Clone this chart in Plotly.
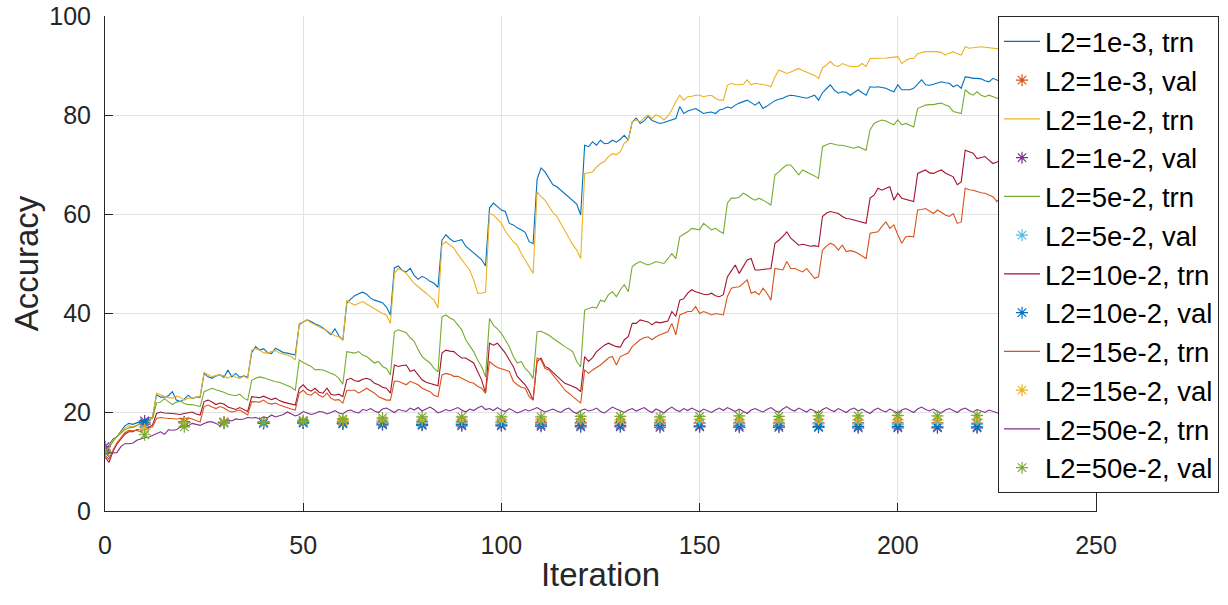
import plotly.graph_objects as go

# ---------------- data ----------------
trn_1e3 = [
    12.0, 13.2, 14.5, 15.0, 16.2, 17.2, 17.7, 17.5, 17.8, 18.1, 18.3, 18.8, 18.9,
    23.5, 23.0, 23.0, 23.3, 24.1, 22.4, 22.1, 22.6, 23.4, 22.7, 23.0, 23.0,
    27.8, 27.1, 26.8, 27.3, 27.5, 27.0, 28.5, 27.1, 27.8, 27.0, 27.3, 27.0,
    32.0, 33.2, 32.5, 32.8, 32.0, 31.8, 32.9, 32.5, 32.0, 31.9, 31.7, 31.5,
    37.6, 38.2, 38.6, 38.3, 37.8, 37.5, 37.0, 36.3, 35.6, 36.8, 35.4, 34.5,
    42.0, 42.8, 43.5, 43.9, 44.2, 43.8, 43.0, 42.6, 42.3, 42.1, 41.2, 39.6,
    49.1, 49.5, 48.6, 48.3, 49.0, 47.6, 46.8, 47.4, 47.0, 46.4, 46.0, 45.2,
    54.7, 55.8, 55.0, 54.4, 54.6, 54.8, 53.5, 52.8, 52.3, 51.4, 50.8, 49.5,
    61.2, 62.2, 61.5, 60.8, 60.5, 58.1, 57.8, 57.2, 56.8, 56.3, 54.4, 54.0,
    67.0, 69.3, 68.5, 67.2, 65.9, 65.5, 64.8, 64.2, 63.5, 62.8, 62.0, 59.8,
    73.9, 73.6, 74.6, 73.9, 74.9, 74.2, 74.3, 74.9, 74.5, 75.1, 75.9, 74.9,
    78.6, 79.4, 78.3, 78.8, 79.7, 78.9, 78.6, 78.3, 78.5, 78.8, 79.0, 79.3,
    81.7, 80.3, 80.8, 81.0, 81.3, 80.8, 80.3, 80.5, 80.6, 80.3, 81.0, 81.2,
    81.6, 81.4, 82.0, 82.4, 82.7, 83.0, 82.5, 82.0, 82.6, 81.3, 81.8, 82.4,
    82.9, 83.2, 83.4, 83.8, 84.0, 83.9, 83.7, 83.5, 83.4, 83.7, 84.0, 83.0,
    84.5, 85.3, 86.1, 85.0, 84.4, 84.7, 84.6, 84.0, 84.6, 85.1, 84.5, 84.0,
    85.7, 85.6, 85.7, 85.5, 85.4, 85.0, 84.7, 86.1, 85.1, 85.1, 85.1, 85.4,
    86.2, 87.1, 86.1, 86.0, 86.2, 86.5, 86.7, 86.5, 86.4, 85.7, 86.1, 85.4,
    87.7, 87.6, 87.4, 87.4, 87.3, 86.9, 86.7, 87.4, 87.0, 86.7,
]

trn_1e2 = [
    11.8, 13.0, 14.2, 15.0, 15.8, 16.8, 17.2, 17.0, 17.3, 17.6, 17.9, 18.4, 18.9,
    23.8, 23.5, 23.2, 22.9, 22.8, 23.2, 23.0, 22.4, 22.8, 22.8, 23.0, 23.2,
    28.0, 27.6, 27.1, 27.4, 27.5, 27.3, 26.8, 27.5, 27.0, 26.8, 27.2, 26.8,
    32.5, 32.8, 32.5, 32.0, 31.9, 32.2, 32.4, 31.9, 31.7, 31.5, 31.2, 30.5,
    37.9, 38.2, 38.6, 38.0, 37.6, 37.3, 36.9, 36.4, 35.9, 35.4, 35.2, 34.5,
    42.6, 42.0, 41.6, 41.9, 42.3, 41.8, 41.3, 40.8, 40.3, 39.9, 39.6, 37.9,
    48.0, 49.0, 48.6, 48.0, 47.0, 46.0, 45.3, 44.7, 44.0, 43.3, 42.6, 41.0,
    53.7, 54.4, 53.8, 53.1, 51.9, 50.7, 49.7, 48.7, 46.7, 44.0, 44.0, 44.2,
    60.1, 59.8, 59.0, 58.1, 56.5, 55.4, 54.4, 53.7, 52.0, 50.7, 49.3, 48.0,
    64.5, 63.5, 62.8, 61.5, 60.3, 59.5, 58.1, 56.5, 55.4, 53.8, 52.7, 51.0,
    68.2, 68.3, 68.5, 69.5, 70.2, 70.6, 71.6, 72.2, 72.0, 72.6, 74.3, 74.9,
    78.6, 79.0, 78.6, 79.4, 80.0, 79.3, 80.0, 79.7, 79.0, 79.8, 81.0, 82.7,
    84.0, 83.0, 83.7, 83.8, 84.0, 84.0, 83.7, 83.9, 84.0, 83.4, 83.0, 83.0,
    86.0, 86.4, 86.1, 86.1, 86.2, 87.1, 86.1, 86.4, 86.3, 86.1, 86.0, 85.7,
    87.7, 89.1, 88.8, 88.4, 88.7, 89.0, 89.4, 89.0, 88.7, 88.4, 88.0, 87.4,
    89.5, 90.1, 90.8, 90.0, 89.8, 90.4, 90.1, 89.8, 89.8, 89.8, 90.4, 89.8,
    91.4, 91.4, 91.5, 91.4, 91.5, 91.6, 91.7, 91.8, 90.4, 91.0, 91.4, 91.4,
    92.4, 92.6, 92.8, 92.8, 92.8, 92.8, 92.6, 92.1, 92.5, 92.8, 92.4, 92.1,
    93.8, 93.5, 93.6, 93.7, 93.8, 93.7, 93.6, 93.6, 93.4, 93.3,
]

trn_5e2 = [
    11.5, 12.8, 14.0, 15.0, 15.8, 16.4, 16.8, 16.9, 17.2, 17.8, 18.0, 18.4, 18.7,
    21.8, 22.0, 22.7, 22.0, 21.5, 22.0, 22.2, 21.7, 21.5, 21.5, 21.3, 21.1,
    24.1, 24.5, 24.8, 24.5, 24.3, 24.0, 23.6, 23.4, 23.3, 23.6, 22.8, 22.4,
    26.4, 26.8, 27.1, 26.9, 26.6, 26.4, 26.1, 26.0, 25.7, 25.3, 25.0, 24.4,
    30.5, 30.0, 29.6, 29.2, 28.5, 28.6, 28.5, 28.2, 27.8, 27.5, 26.8, 25.6,
    32.2, 32.0, 31.9, 32.2, 31.5, 31.2, 30.5, 29.9, 30.2, 29.2, 28.8, 27.5,
    36.2, 36.6, 36.3, 36.0, 35.0, 34.3, 32.6, 31.2, 30.5, 29.9, 28.8, 28.1,
    39.2, 39.6, 39.0, 38.6, 37.6, 36.6, 34.6, 33.5, 32.2, 30.5, 29.2, 27.1,
    38.9, 37.5, 36.8, 35.9, 34.5, 33.2, 31.2, 29.9, 30.2, 28.8, 28.0, 26.8,
    36.2, 36.3, 35.9, 35.5, 34.9, 34.4, 33.8, 33.2, 32.7, 32.2, 30.2, 29.1,
    40.6, 40.9, 41.2, 41.0, 42.6, 42.3, 43.7, 44.3, 43.3, 44.7, 45.7, 44.3,
    49.4, 50.0, 50.4, 50.0, 49.7, 50.0, 50.4, 50.2, 50.0, 51.0, 52.0, 51.0,
    55.4, 55.9, 56.4, 57.1, 57.0, 56.8, 58.1, 57.5, 56.8, 57.1, 56.5, 56.1,
    62.2, 63.2, 63.2, 63.4, 64.2, 63.8, 63.2, 62.8, 63.2, 62.8, 62.3, 61.8,
    67.9, 68.5, 69.3, 69.9, 69.9, 69.0, 67.9, 68.9, 68.5, 68.2, 67.7, 67.2,
    73.6, 74.0, 74.3, 74.1, 73.9, 73.9, 73.7, 73.5, 73.3, 73.6, 73.3, 72.9,
    77.0, 78.3, 78.7, 79.0, 78.8, 78.4, 78.0, 79.0, 78.0, 78.3, 78.0, 77.6,
    81.3, 81.7, 82.0, 82.1, 82.1, 82.3, 82.4, 82.0, 81.7, 80.7, 80.5, 80.3,
    85.1, 84.4, 84.0, 84.7, 84.0, 83.7, 84.0, 83.7, 83.4, 83.4,
]

trn_10e2 = [
    11.0, 9.8, 12.0, 13.5, 14.5, 15.5, 16.0, 16.0, 16.4, 16.5, 16.5, 16.9, 17.4,
    19.7, 20.0, 19.8, 19.8, 19.7, 19.6, 19.5, 19.7, 19.8, 20.0, 19.6, 19.4,
    22.1, 22.4, 22.0, 21.5, 21.8, 21.6, 21.0, 20.8, 20.5, 20.9, 20.5, 20.1,
    23.1, 23.0, 22.9, 23.2, 22.8, 22.5, 22.8, 22.3, 22.0, 21.8, 21.6, 21.4,
    24.8, 25.5, 24.6, 24.2, 24.8, 24.0, 23.8, 24.8, 23.6, 23.4, 23.6, 23.1,
    26.5, 26.8, 26.3, 26.2, 26.6, 26.8, 26.5, 25.8, 25.5, 25.0, 24.8, 23.8,
    29.5, 29.2, 29.4, 29.5, 28.2, 28.5, 27.5, 26.5, 26.0, 25.8, 25.5, 25.3,
    31.9, 32.5, 32.3, 32.2, 31.5, 30.9, 30.9, 30.4, 29.9, 28.2, 26.5, 23.8,
    33.9, 33.5, 33.9, 32.9, 31.9, 30.5, 29.2, 27.2, 26.3, 25.5, 24.2, 22.4,
    30.2, 30.9, 29.2, 28.8, 28.0, 27.2, 26.5, 25.8, 25.5, 25.2, 24.8, 24.1,
    31.2, 30.2, 31.0, 32.2, 32.9, 33.5, 33.9, 33.5, 33.2, 33.1, 34.6, 35.2,
    37.9, 37.9, 38.6, 38.4, 38.2, 37.6, 38.2, 38.0, 38.2, 38.4, 40.3, 39.3,
    42.6, 42.9, 44.0, 44.7, 44.3, 44.0, 43.8, 43.7, 44.0, 43.5, 43.3, 43.7,
    47.3, 48.5, 49.7, 48.0, 49.5, 50.7, 51.0, 48.7, 48.7, 48.8, 48.8, 49.0,
    54.1, 54.7, 55.5, 56.4, 55.1, 54.3, 53.7, 53.9, 53.7, 53.5, 53.6, 53.4,
    59.5, 60.2, 60.5, 60.3, 60.1, 59.5, 59.1, 59.0, 58.8, 58.5, 58.4, 58.1,
    63.2, 63.8, 65.2, 64.8, 65.2, 65.5, 62.8, 64.2, 63.2, 63.0, 62.8, 62.5,
    68.2, 68.5, 68.9, 68.3, 68.2, 68.6, 68.9, 68.3, 67.9, 67.5, 65.9, 66.5,
    72.9, 72.6, 72.3, 71.2, 71.4, 71.6, 70.9, 70.2, 70.5, 70.9,
]

trn_15e2 = [
    11.2, 10.5, 12.3, 13.8, 14.8, 15.8, 16.3, 16.2, 16.3, 16.0, 16.5, 16.8, 17.0,
    18.7, 18.9, 18.8, 18.7, 18.7, 18.6, 18.7, 18.7, 18.8, 18.6, 18.3, 18.0,
    21.1, 21.4, 21.0, 20.7, 21.1, 20.8, 20.3, 20.0, 20.2, 20.4, 19.9, 19.4,
    22.1, 22.1, 22.0, 22.4, 21.8, 21.6, 21.8, 21.4, 21.1, 20.8, 20.6, 20.4,
    23.8, 24.4, 23.6, 23.4, 24.1, 23.4, 23.0, 23.8, 22.8, 22.4, 22.5, 21.8,
    24.4, 24.4, 24.4, 23.8, 24.3, 24.8, 24.3, 23.8, 23.1, 22.8, 22.4, 22.4,
    26.2, 26.2, 25.8, 25.5, 26.2, 25.8, 25.5, 24.8, 24.4, 24.1, 23.4, 23.1,
    27.5, 27.8, 27.6, 27.2, 27.2, 26.8, 26.5, 26.0, 25.8, 25.2, 24.8, 23.8,
    30.2, 29.5, 29.0, 28.8, 28.5, 28.2, 26.2, 25.5, 25.0, 24.8, 23.1, 22.4,
    30.9, 30.5, 28.8, 28.5, 27.4, 26.5, 25.5, 24.4, 23.8, 23.1, 22.4, 21.8,
    28.5, 27.8, 28.5, 29.0, 29.5, 30.2, 30.9, 31.2, 29.5, 31.2, 31.5, 31.9,
    33.2, 34.0, 34.6, 35.0, 35.2, 34.6, 35.2, 35.6, 35.9, 36.2, 37.9, 35.6,
    39.6, 40.0, 40.3, 40.3, 41.3, 39.9, 40.3, 40.0, 39.6, 39.9, 39.7, 39.6,
    43.3, 45.0, 45.2, 45.3, 46.0, 46.7, 44.0, 44.3, 43.7, 45.0, 44.0, 42.6,
    49.0, 48.8, 48.7, 50.4, 49.0, 49.0, 48.6, 48.3, 49.0, 48.0, 47.0, 47.3,
    52.7, 53.5, 54.1, 53.7, 52.7, 53.7, 52.4, 52.6, 52.4, 52.0, 51.5, 51.0,
    56.1, 56.2, 56.4, 57.5, 58.4, 57.1, 57.8, 55.8, 54.1, 55.4, 55.5, 55.4,
    60.8, 60.9, 61.1, 60.6, 60.1, 60.8, 60.3, 59.8, 59.5, 60.1, 58.1, 58.4,
    65.2, 64.9, 64.8, 64.5, 64.3, 64.2, 63.8, 63.5, 62.5, 63.5,
]

trn_50e2 = [
    11.7, 11.7, 11.7, 11.8, 13.0, 13.6, 13.6, 13.7, 14.3, 14.6, 14.8, 14.9, 15.3,
    15.6, 16.0, 15.5, 16.4, 16.3, 16.4, 17.0, 17.0, 17.2, 17.7, 17.5, 17.3,
    17.7, 18.0, 18.0, 17.7, 17.2, 18.1, 18.4, 18.2, 18.6, 18.5, 18.6, 18.9,
    18.8, 18.9, 18.6, 19.0, 18.8, 19.4, 19.0, 19.2, 19.5, 20.0, 19.6, 19.2, 19.5, 20.1,
    19.8, 19.5, 19.7, 20.1, 20.0, 19.6, 19.9, 20.3, 19.8, 19.6, 20.2, 20.4,
    20.0, 19.8, 20.5, 20.3, 20.7, 20.2, 19.9, 20.6, 20.8, 20.3, 19.9, 20.5,
    20.3, 20.1, 20.8, 20.4, 20.9, 20.2, 20.6, 21.0, 20.5, 19.8, 20.1, 20.5,
    20.2, 20.6, 20.9, 20.4, 20.0, 20.6, 20.3, 20.8, 21.2, 20.5, 20.7, 20.3,
    20.9, 20.4, 20.1, 20.7, 20.3, 19.8, 20.1, 20.5, 20.2, 20.6, 20.9, 20.4,
    20.0, 20.3, 20.6, 20.2, 19.9, 20.5, 20.8, 20.1, 19.7, 20.3, 20.6, 20.2,
    20.4, 20.8, 20.1, 19.8, 20.5, 21.0, 20.6, 20.2, 19.9, 20.4, 20.7, 20.2,
    20.5, 20.9, 20.3, 19.9, 20.6, 20.2, 19.8, 20.5, 21.0, 20.4, 20.1, 20.7,
    20.3, 20.8, 20.4, 20.0, 20.6, 20.2, 19.9, 20.4, 20.8, 20.3, 20.9, 20.5,
    20.1, 20.6, 20.2, 19.7, 20.4, 20.7, 20.3, 20.0, 20.5, 20.9, 20.3, 19.9,
    20.6, 21.1, 20.5, 20.2, 20.8, 20.4, 20.0, 20.6, 20.2, 19.8, 20.5, 20.9,
    20.4, 20.1, 20.7, 20.3, 19.9, 20.5, 20.8, 20.2, 20.6, 20.1, 19.7, 20.4,
    20.8, 20.3, 20.0, 20.6, 20.2, 19.8, 20.4, 20.7, 20.3, 19.9, 20.6, 21.0,
    20.5, 20.2, 20.6, 20.1, 19.8, 20.4, 20.7, 20.3, 19.9, 20.5, 20.8, 20.3,
    20.0, 20.5, 20.2, 19.9, 20.4, 20.1, 19.8, 19.6,
]

val_iter = [0, 10, 20, 30, 40, 50, 60, 70, 80, 90, 100, 110,
            120, 130, 140, 150, 160, 170, 180, 190, 200, 210, 220]
val_1e3 = [12.3, 17.5, 18.0, 18.0, 18.0, 18.1, 18.0, 18.0, 18.0, 18.0, 17.9, 17.9,
           17.9, 17.9, 17.8, 17.8, 17.8, 17.8, 17.8, 17.8, 17.8, 17.8, 17.7]
val_1e2 = [13.0, 18.2, 17.9, 17.8, 17.7, 17.8, 17.6, 17.4, 17.3, 17.2, 17.2, 17.1,
           17.0, 17.0, 16.9, 17.0, 16.9, 16.9, 16.9, 16.8, 16.8, 16.8, 16.8]
val_5e2 = [12.0, 17.0, 17.8, 17.8, 17.8, 17.9, 17.8, 17.8, 17.8, 17.8, 17.8, 17.7,
           17.7, 17.7, 17.6, 17.7, 17.6, 17.6, 17.6, 17.6, 17.5, 17.6, 17.5]
val_10e2 = [11.8, 17.8, 17.9, 17.9, 17.8, 17.8, 17.7, 17.6, 17.5, 17.5, 17.4, 17.4,
            17.3, 17.3, 17.3, 17.2, 17.2, 17.2, 17.1, 17.1, 17.1, 17.0, 17.0]
val_15e2 = [12.0, 16.5, 17.8, 18.0, 18.0, 18.2, 18.3, 18.4, 18.4, 18.4, 18.4, 18.4,
            18.5, 18.4, 18.4, 18.5, 18.4, 18.4, 18.5, 18.4, 18.4, 18.4, 18.5]
val_50e2 = [12.0, 15.4, 17.0, 17.8, 18.0, 18.3, 18.6, 18.8, 19.0, 19.0, 19.0, 19.0,
            19.1, 19.1, 19.0, 19.1, 19.2, 19.1, 19.2, 19.2, 19.3, 19.2, 19.3]

x_ticks = [0, 50, 100, 150, 200, 250]
y_ticks = [0, 20, 40, 60, 80, 100]

# MATLAB default colour order
C_BLUE, C_ORANGE, C_YELLOW = "#0072BD", "#D95319", "#EDB120"
C_PURPLE, C_GREEN, C_CYAN, C_RED = "#7E2F8E", "#77AC30", "#4DBEEE", "#A2142F"

series = [
    ("L2=1e-3, trn", trn_1e3, C_BLUE, "L2=1e-3, val", val_1e3, C_ORANGE),
    ("L2=1e-2, trn", trn_1e2, C_YELLOW, "L2=1e-2, val", val_1e2, C_PURPLE),
    ("L2=5e-2, trn", trn_5e2, C_GREEN, "L2=5e-2, val", val_5e2, C_CYAN),
    ("L2=10e-2, trn", trn_10e2, C_RED, "L2=10e-2, val", val_10e2, C_BLUE),
    ("L2=15e-2, trn", trn_15e2, C_ORANGE, "L2=15e-2, val", val_15e2, C_YELLOW),
    ("L2=50e-2, trn", trn_50e2, C_PURPLE, "L2=50e-2, val", val_50e2, C_GREEN),
]

fig = go.Figure()
for tname, tvals, tcol, vname, vvals, vcol in series:
    fig.add_trace(go.Scatter(
        x=list(range(len(tvals))), y=tvals, name=tname, mode="lines",
        line=dict(color=tcol, width=1.1),
    ))
    fig.add_trace(go.Scatter(
        x=val_iter, y=vvals, name=vname, mode="markers",
        marker=dict(symbol="asterisk-open", size=10, color=vcol,
                    line=dict(color=vcol, width=1.2)),
    ))

FONT = "Liberation Sans, Arial, sans-serif"
AXIS_FONT = dict(family=FONT, size=25, color="#262626")

fig.update_layout(
    width=1228, height=605,
    margin=dict(l=105, r=132, t=16, b=94, autoexpand=False),
    paper_bgcolor="white", plot_bgcolor="white",
    showlegend=True,
    legend=dict(
        x=(998 - 105) / 991, xanchor="left", y=1.0, yanchor="top",
        bgcolor="white", bordercolor="#262626", borderwidth=1,
        font=dict(family=FONT, size=27.5, color="#000000"),
        itemwidth=36,
    ),
    xaxis=dict(
        range=[0, 250], tickvals=x_ticks, ticktext=[str(v) for v in x_ticks],
        showgrid=True, gridcolor="#e2e2e2", gridwidth=1,
        showline=True, linecolor="#262626", linewidth=1,
        ticks="inside", ticklen=8, tickcolor="#262626",
        tickfont=AXIS_FONT, ticklabelstandoff=12,
        zeroline=False, mirror=False,
        title=dict(text="Iteration", standoff=4,
                   font=dict(family=FONT, size=33, color="#262626")),
    ),
    yaxis=dict(
        range=[0, 100], tickvals=y_ticks, ticktext=[str(v) for v in y_ticks],
        showgrid=True, gridcolor="#e2e2e2", gridwidth=1,
        showline=True, linecolor="#262626", linewidth=1,
        ticks="inside", ticklen=8, tickcolor="#262626",
        tickfont=AXIS_FONT, ticklabelstandoff=8,
        zeroline=False, mirror=True,
        title=dict(text="Accuracy", standoff=0,
                   font=dict(family=FONT, size=33, color="#262626")),
    ),
)

fig.write_html("out.html")
